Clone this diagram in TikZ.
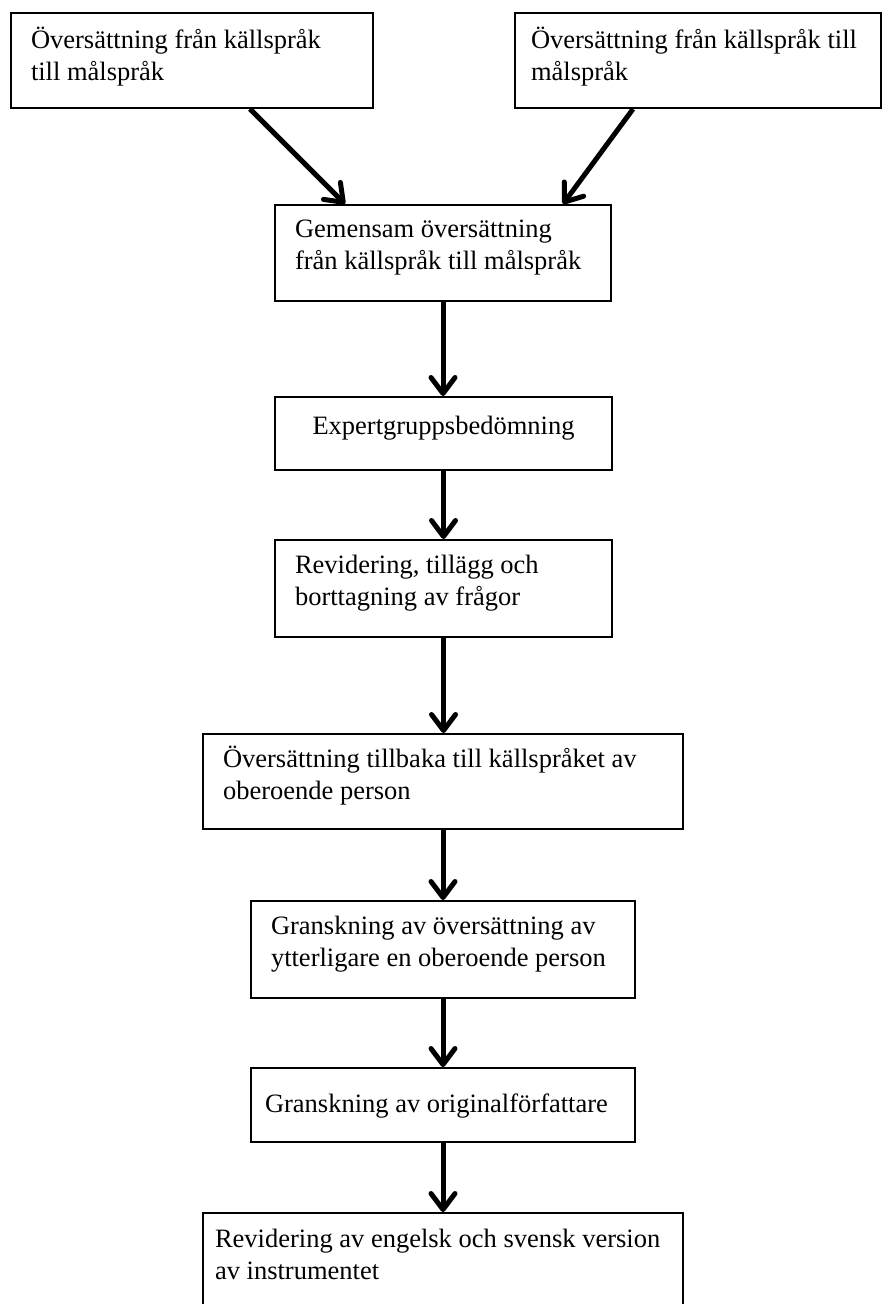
\documentclass[tikz,border=0pt]{standalone}
\usepackage{fontspec}
\setmainfont{Liberation Serif}
\usetikzlibrary{arrows.meta}

\tikzset{
  stage/.style={draw, line width=1pt, anchor=north west, inner xsep=10pt,
    inner ysep=0pt, align=flush left, text height=16.5pt,
    font=\fontsize{13.25pt}{16pt}\selectfont},
  flow/.style={line width=2.5pt, -{Straight Barb[length=8pt,width=12pt,round]}}
}

\begin{document}
\begin{tikzpicture}[x=0.5pt, y=-0.5pt]
	% \draw[help lines] (0,0) grid (890,1304);
	\useasboundingbox (0,0) rectangle (890,1304);
	% two translations
	\node[stage, text width=161pt, text height=18pt, text depth=29.5pt] (trans1) at (10,12)
		{Översättning från källspråk\\till målspråk};
	\node[stage, text width=167pt, inner xsep=8pt, text height=18pt, text depth=29.5pt] (trans2) at (514,12)
		{Översättning från källspråk till\\målspråk};
	% joint version
	\node[stage, text width=148pt, text depth=31.5pt] (joint) at (274,204)
		{Gemensam översättning\\från källspråk till målspråk};
	\node[stage, text width=148.5pt, align=flush center, text height=18.5pt, text depth=18pt] (expert) at (274,396)
		{Expertgruppsbedömning};
	\node[stage, text width=148.5pt, text depth=32pt] (revise) at (274,539)
		{Revidering, tillägg och\\borttagning av frågor};
	% back translation
	\node[stage, text width=220pt, text depth=31pt] (back) at (202,733)
		{Översättning tillbaka till källspråket av\\oberoende person};
	\node[stage, text width=172pt, text depth=32pt] (review) at (250,900)
		{Granskning av översättning av\\ytterligare en oberoende person};
	\node[stage, text width=178pt, inner xsep=7pt, text height=22pt, text depth=15pt] (author) at (250,1067)
		{Granskning av originalförfattare};
	\node[stage, text width=228pt, inner xsep=6pt, text height=17pt, text depth=31pt] (final) at (202,1212)
		{Revidering av engelsk och svensk version\\av instrumentet};

	% arrows
	\draw[flow] ([xshift=120pt]trans1.south west) -- ([xshift=35.5pt]joint.north west);
	\draw[flow] ([xshift=59.5pt]trans2.south west) -- ([xshift=144.5pt]joint.north west);
	\draw[flow] (joint.south) -- (joint.south |- expert.north);
	\draw[flow] (expert.south) -- (expert.south |- revise.north);
	\draw[flow] (revise.south) -- (revise.south |- back.north);
	\draw[flow] (back.south) -- (back.south |- review.north);
	\draw[flow] (review.south) -- (review.south |- author.north);
	\draw[flow] (author.south) -- (author.south |- final.north);
\end{tikzpicture}
\end{document}
